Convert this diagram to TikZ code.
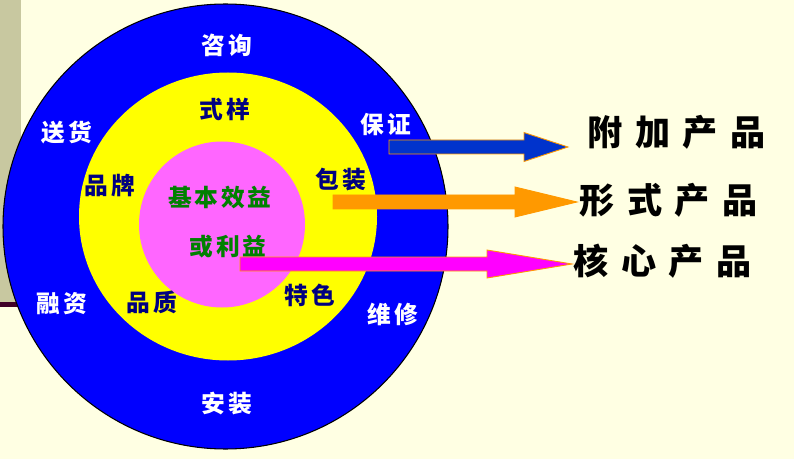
\documentclass[tikz,border=0pt]{standalone}
\usepackage{fontspec}
\usetikzlibrary{positioning}
\newfontfamily\cjk[LetterSpace=12]{Noto Sans CJK SC}
\newfontfamily\cjkwide[LetterSpace=36]{Noto Sans CJK SC}
\definecolor{cPaper}{HTML}{FFFFE3}
\definecolor{cStrip}{HTML}{C8C8A0}
\definecolor{cRule}{HTML}{400028}
\definecolor{cOuter}{HTML}{0000FF}
\definecolor{cMiddle}{HTML}{FFFF00}
\definecolor{cCore}{HTML}{FF66FF}
\definecolor{cNavy}{HTML}{000080}
\definecolor{cGreen}{HTML}{008000}
\definecolor{cArrowBlue}{HTML}{0033CC}
\definecolor{cArrowOrange}{HTML}{FF9900}
\definecolor{cArrowPink}{HTML}{FF00FF}
\definecolor{cArrowEdge}{HTML}{FF9900}
% block arrow: start x, centre y, head base x, tip x, head half height, fill
\newcommand{\blockArrow}[6]{
  \filldraw[fill=#6, draw=cArrowEdge, line width=0.5pt]
    (#1,#2-7) -- (#3,#2-7) -- (#3,#2-#5) -- (#4,#2)
    -- (#3,#2+#5) -- (#3,#2+7) -- (#1,#2+7) -- cycle;
}

\begin{document}
\begin{tikzpicture}[
    x=0.02cm, y=-0.02cm,
    ringlabel/.style={inner sep=0pt, font=\fontsize{13.5}{16}\selectfont\cjk\bfseries},
    outerlabel/.style={ringlabel, text=white},
    midlabel/.style={ringlabel, text=cNavy},
    corelabel/.style={ringlabel, text=cGreen},
    productlabel/.style={inner sep=0pt, anchor=west, text=black,
      font=\fontsize{20}{24}\selectfont\cjkwide\bfseries},
]
\useasboundingbox (0,0) rectangle (794,459);
\fill[cPaper] (0,0) rectangle (794,459);

% ---- slide decoration ----
\fill[cStrip] (0,0) rectangle (21,303);
\draw[cRule, line width=2.3pt] (0,304.5) -- (40,304.5);

% ---- three product levels ----
\filldraw[fill=cOuter, draw=black, line width=0.6pt] (225.5,226.5) circle (222.5);
\fill[cMiddle] (228,216.5) ellipse (149 and 144);
\fill[cCore] (222,224.5) circle (83);

% ---- outer ring: add-on services ----
\node[outerlabel] (consult) at (227,45) {咨询};
\node[outerlabel] (deliver) at (67,132) {送货};
\node[outerlabel] (warrant) at (386,125) {保证};
\node[outerlabel] (credit) at (62,304) {融资};
\node[outerlabel] (repair) at (393,314) {维修};
\node[outerlabel] (install) at (227,404) {安装};

% ---- middle ring: tangible form ----
\node[midlabel] (style) at (225,109) {式样};
\node[midlabel] (brand) at (110,186) {品牌};
\node[midlabel] (package) at (341,180) {包装};
\node[midlabel] (quality) at (152,302) {品质};
\node[midlabel] (feature) at (310,295) {特色};

% ---- core ----
\node[corelabel] (benefit) at (220,197) {基本效益};
\node[corelabel] (profit) at (228,247) {或利益};

% ---- level names ----
\node[productlabel] (pAdd) at (587,132) {附加产品};
\node[productlabel] (pForm) at (579,200) {形式产品};
\node[productlabel] (pCore) at (573,261) {核心产品};

% ---- pointers ----
\blockArrow{389}{147}{524}{568}{14.5}{cArrowBlue}
\blockArrow{333}{202}{515}{577}{15}{cArrowOrange}
\blockArrow{240}{264}{487}{572}{14}{cArrowPink}

\end{tikzpicture}
\end{document}
